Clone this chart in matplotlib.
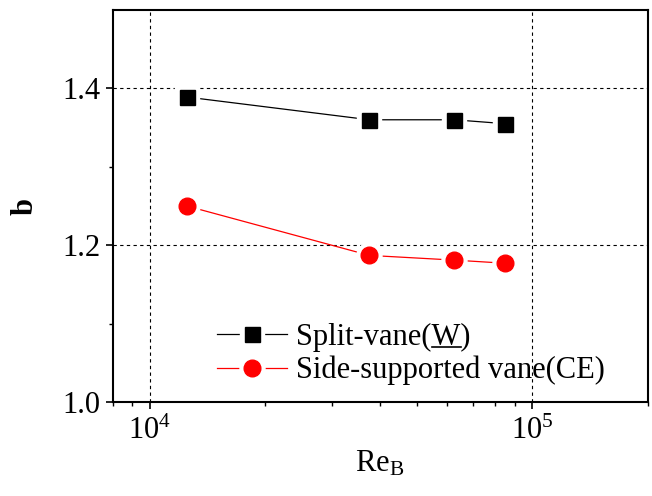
import matplotlib
matplotlib.use("Agg")
import matplotlib.pyplot as plt
from matplotlib.ticker import FixedLocator, LogLocator, NullFormatter
from matplotlib.legend_handler import HandlerTuple
from matplotlib.lines import Line2D

plt.rcParams['font.family'] = ['Liberation Serif', 'DejaVu Serif']
plt.rcParams['mathtext.fontset'] = 'custom'
plt.rcParams['mathtext.rm'] = 'Liberation Serif'
plt.rcParams['mathtext.it'] = 'Liberation Serif:italic'
plt.rcParams['mathtext.bf'] = 'Liberation Serif:bold'

re_split = [12500, 37500, 62500, 85000]
b_split = [1.389, 1.360, 1.360, 1.355]
re_side = [12500, 37500, 62500, 85000]
b_side = [1.250, 1.187, 1.181, 1.177]
label_split = "Split-vane(W)"
label_side = "Side-supported vane(CE)"
underlined_prefix = "Split-vane("
underlined_char = "W"

FS = 22

fig = plt.figure(figsize=(6.52, 4.96), dpi=100)
ax = fig.add_axes([0.1729, 0.1895, 0.8202, 0.7903])

ax.set_xscale('log')
ax.set_xlim(8000, 2e5)
ax.set_ylim(1.0, 1.5)

# lines with gaps around markers
l1, = ax.plot(re_split, b_split, color='black', lw=0.9, marker='s', ms=17,
              mfc='white', mec='white', zorder=3)
m1, = ax.plot(re_split, b_split, ls='none', marker='s', ms=10.8,
              mfc='black', mec='black', zorder=4)
l2, = ax.plot(re_side, b_side, color='red', lw=0.9, marker='o', ms=18,
              mfc='white', mec='white', zorder=3)
m2, = ax.plot(re_side, b_side, ls='none', marker='o', ms=12,
              mfc='red', mec='red', zorder=4)

ax.yaxis.set_major_locator(FixedLocator([1.0, 1.2, 1.4]))
ax.yaxis.set_minor_locator(FixedLocator([1.1, 1.3]))
ax.set_yticklabels(['1.0', '1.2', '1.4'])
ax.xaxis.set_major_locator(FixedLocator([1e4, 1e5]))
ax.xaxis.set_minor_locator(LogLocator(base=10, subs=range(2, 10)))
ax.xaxis.set_minor_formatter(NullFormatter())
ax.set_xticklabels(['$10^4$', '$10^5$'])

ax.grid(True, which='major', color='black', lw=0.8, ls=(0, (3, 3)))

ax.tick_params(which='major', direction='out', length=5, width=1.2,
               labelsize=FS, pad=4, top=False, right=False)
ax.tick_params(axis='x', which='major', pad=6)
ax.tick_params(which='minor', direction='out', length=2.8, width=1.0,
               top=False, right=False)
for s in ax.spines.values():
    s.set_linewidth(1.5)

ax.set_ylabel('b', fontsize=FS, fontweight='bold', labelpad=16)
ax.set_xlabel(r'$\mathrm{Re}_{\mathrm{B}}$', fontsize=FS, labelpad=2)

leg = ax.legend([(l1, m1), (l2, m2)], [label_split, label_side],
                handler_map={tuple: HandlerTuple(ndivide=1, pad=0)},
                loc='upper left', bbox_to_anchor=(0.195, 0.203),
                frameon=False, fontsize=FS, handlelength=2.3,
                handletextpad=0.3, labelspacing=0.14,
                borderpad=0, borderaxespad=0)

# underline the "W" in the first legend label
fig.canvas.draw()
renderer = fig.canvas.get_renderer()
txt = leg.get_texts()[0]
bb = txt.get_window_extent(renderer)
fp = txt.get_fontproperties()
w_pre, _, _ = renderer.get_text_width_height_descent(underlined_prefix, fp, ismath=False)
w_all, _, d_all = renderer.get_text_width_height_descent(underlined_prefix + underlined_char, fp, ismath=False)
x0 = bb.x0 + w_pre
x1 = bb.x0 + w_all
yline = bb.y0 + d_all - 2.5
W, H = fig.bbox.width, fig.bbox.height
fig.add_artist(Line2D([x0 / W, x1 / W], [yline / H, yline / H],
                      transform=fig.transFigure, color='black', lw=1.2))

fig.savefig('out.png', dpi=100)
